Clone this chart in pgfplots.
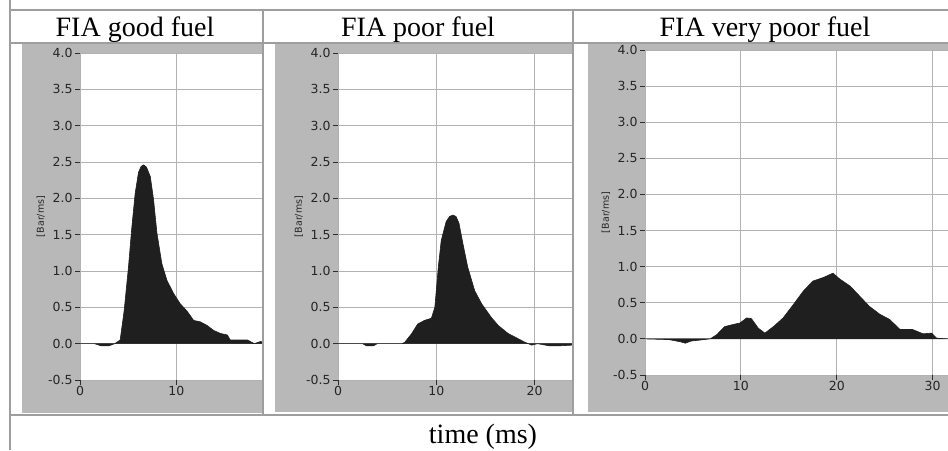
\documentclass[border=0pt]{standalone}
\usepackage{pgfplots}
\pgfplotsset{compat=1.18}
\usepackage{fontspec}
\setmainfont{Liberation Serif}
\setsansfont{Liberation Sans}
\newfontfamily\tickfont{DejaVu Sans}
\definecolor{panelgray}{gray}{0.72}
\definecolor{framegray}{gray}{0.62}
\definecolor{fillc}{gray}{0.12}
\pgfplotsset{
  fiaax/.style={
    scale only axis, anchor=south west,
    ymin=-0.5, ymax=4,
    ytick={-0.5,0,0.5,1,1.5,2,2.5,3,3.5,4},
    axis background/.style={fill=white},
    grid=major, major grid style={draw=gray!60, line width=0.9pt},
    axis line style={draw=none},
    tick style={draw=gray!35!black, line width=0.8pt},
    tick align=outside, major tick length=5pt, tick pos=left,
    tick label style={font=\tickfont\fontsize{12.5}{14}\selectfont, text=gray!30!black},
    /pgf/number format/assume math mode=true,
    y tick label style={/pgf/number format/.cd, fixed, fixed zerofill, precision=1, /tikz/.cd, xshift=1pt},
    x tick label style={yshift=2pt},
    ylabel={[Bar/ms]},
    ylabel style={font=\tickfont\fontsize{9.5}{11}\selectfont, text=gray!30!black, yshift=-4pt},
  }
}
\begin{document}
\begin{tikzpicture}[x=1pt,y=1pt]
\useasboundingbox (0,0) rectangle (948,450);
% gray panel backgrounds
\fill[panelgray] (22,37) rectangle (263,406);
\fill[panelgray] (275,38) rectangle (572,406);
\fill[panelgray] (588,38) rectangle (948,406);

\begin{axis}[fiaax, at={(80pt,70pt)}, width=183pt, height=327pt,
  xmin=0, xmax=19, xtick={0,10}]
\addplot[draw=fillc, fill=fillc, line width=0.6pt] table {
0 0
1.5 0
2.2 -0.03
3.0 -0.03
3.6 0
4.17 0.05
4.58 0.45
5.03 1.05
5.38 1.6
5.73 2.07
6.08 2.36
6.35 2.44
6.6 2.46
6.9 2.43
7.3 2.3
7.64 1.98
7.99 1.52
8.5 1.1
9.03 0.87
9.72 0.69
10.4 0.55
11.1 0.45
11.8 0.32
12.5 0.3
13.2 0.25
13.9 0.18
14.6 0.14
15.3 0.12
15.6 0.05
16.3 0.05
17.4 0.05
18.1 0
18.75 0.03
19 0.02
} \closedcycle;
\end{axis}

\begin{axis}[fiaax, at={(338pt,70pt)}, width=234pt, height=327pt,
  xmin=0, xmax=23.8, xtick={0,10,20}]
\addplot[draw=fillc, fill=fillc, line width=0.6pt] table {
0 0
2.5 0
2.9 -0.03
3.6 -0.03
4.0 0
6.5 0
6.8 0.02
7.5 0.14
8.1 0.27
8.8 0.32
9.5 0.35
9.85 0.5
10.2 1.05
10.5 1.42
11.0 1.68
11.35 1.75
11.7 1.77
12.0 1.75
12.3 1.66
12.7 1.38
13.2 1.05
13.9 0.73
14.6 0.55
15.6 0.36
16.3 0.25
17.3 0.14
18.3 0.07
19.0 0.02
19.7 -0.02
20.3 0
21.5 -0.03
22.5 -0.03
23.8 -0.02
} \closedcycle;
\end{axis}

\begin{axis}[fiaax, at={(645pt,75pt)}, width=303pt, height=325pt,
  xmin=0, xmax=31.6, xtick={0,10,20,30}]
\addplot[draw=fillc, fill=fillc, line width=0.6pt] table {
0 0
2.5 -0.01
3.7 -0.04
4.2 -0.06
4.8 -0.03
6.8 0
7.5 0.06
8.3 0.17
9.2 0.2
9.9 0.22
10.6 0.29
11.1 0.28
11.8 0.15
12.5 0.08
13.4 0.17
14.4 0.29
15.5 0.48
16.5 0.66
17.5 0.8
18.6 0.85
19.6 0.91
20.3 0.83
21.4 0.73
22.4 0.59
23.4 0.45
24.5 0.34
25.5 0.27
26.6 0.13
27.9 0.13
29.0 0.07
29.9 0.08
30.4 0.01
31.6 0
} \closedcycle;
\end{axis}

% frame lines
\draw[framegray, line width=1.2pt] (10,450) -- (10,440) -- (948,440);
\draw[framegray, line width=1.2pt] (10,440) -- (10,0);
\draw[framegray, line width=1.2pt] (10,407) -- (948,407);
\draw[framegray, line width=1.2pt] (10,35) -- (948,35);
\draw[framegray, line width=1.2pt] (263,440) -- (263,35);
\draw[framegray, line width=1.2pt] (573,440) -- (573,35);

% titles
\node[anchor=base, font=\fontsize{28}{30}\selectfont] at (135,413) {FIA good fuel};
\node[anchor=base, font=\fontsize{28}{30}\selectfont] at (418,413) {FIA poor fuel};
\node[anchor=base, font=\fontsize{28}{30}\selectfont] at (765,413) {FIA very poor fuel};
\node[anchor=base, font=\fontsize{28}{30}\selectfont] at (483,6) {time (ms)};
\end{tikzpicture}
\end{document}
